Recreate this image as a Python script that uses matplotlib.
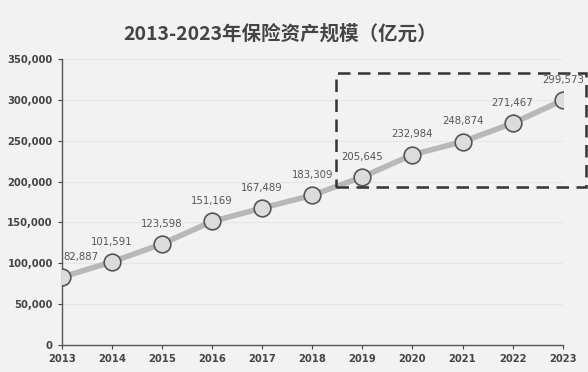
import matplotlib
matplotlib.use("Agg")
import matplotlib.pyplot as plt
from matplotlib.patches import Rectangle
from matplotlib.ticker import FuncFormatter

years = [2013, 2014, 2015, 2016, 2017, 2018, 2019, 2020, 2021, 2022, 2023]
assets = [82887, 101591, 123598, 151169, 167489, 183309, 205645, 232984, 248874, 271467, 299573]
yticks = [0, 50000, 100000, 150000, 200000, 250000, 300000, 350000]
title = "2013-2023年保险资产规模（亿元）"

plt.rcParams['font.family'] = ['Noto Sans CJK SC', 'DejaVu Sans']

fig = plt.figure(figsize=(5.88, 3.72), dpi=100)
bg = '#f2f2f2'
fig.patch.set_facecolor(bg)
ax = fig.add_axes([0.105, 0.073, 0.852, 0.768])
ax.set_facecolor(bg)

ax.plot(years, assets, color='#b8b8b8', lw=4, zorder=2)
ax.plot(years, assets, 'o', ms=12, mfc='#dcdcdc', mec='#555555', mew=1.2, zorder=3)

for i, (x, y) in enumerate(zip(years, assets)):
    dx = 14 if i == 0 else 0
    ax.annotate(f"{y:,}", (x, y), xytext=(dx, 11), textcoords='offset points',
                ha='center', va='bottom', fontsize=7.3, color='#555555',
                family='DejaVu Sans', zorder=4)

ax.set_xlim(2013, 2023)
ax.set_ylim(0, 350000)
ax.set_xticks(years)
ax.set_yticks(yticks)
ax.yaxis.set_major_formatter(FuncFormatter(lambda v, p: f"{int(v):,}"))
for lab in ax.get_xticklabels() + ax.get_yticklabels():
    lab.set_fontweight('bold')
    lab.set_family('DejaVu Sans')
ax.tick_params(axis='both', labelsize=7.2, colors='#444444', length=3, width=0.8)
ax.grid(axis='y', color='#e6e6e6', lw=0.8, zorder=0)
for s in ['top', 'right']:
    ax.spines[s].set_visible(False)
for s in ['left', 'bottom']:
    ax.spines[s].set_color('#555555')
    ax.spines[s].set_linewidth(1.0)

rect = Rectangle((2018.47, 193000), 5.0, 140000, fill=False, ls=(0, (5, 3)),
                 lw=1.8, ec='#333333', clip_on=False, zorder=5)
ax.add_patch(rect)

fig.text(0.476, 0.91, title, ha='center', va='center', fontsize=14,
         fontweight='bold', color='#444444')

fig.savefig('out.png', dpi=100, facecolor=bg)
